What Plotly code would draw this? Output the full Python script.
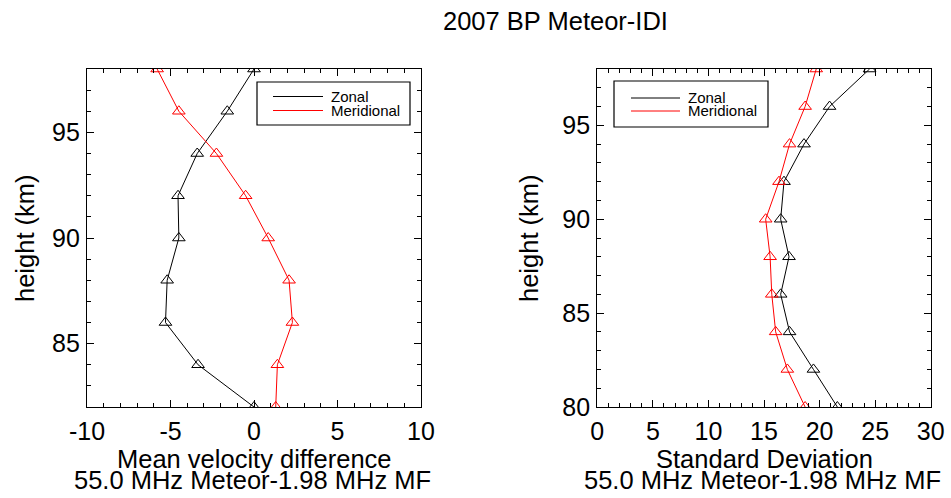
import plotly.graph_objects as go

# Height levels (km)
heights_mean = [98, 96, 94, 92, 90, 88, 86, 84, 82]
heights_std = [98, 96, 94, 92, 90, 88, 86, 84, 82, 80]

# Mean velocity difference, 55.0 MHz meteor minus 1.98 MHz MF (m/s)
mean_zonal = [0.0, -1.6, -3.4, -4.55, -4.5, -5.2, -5.3, -3.35, 0.0]
mean_merid = [-5.8, -4.5, -2.25, -0.5, 0.85, 2.1, 2.3, 1.4, 1.3]

# Standard deviation of the difference (m/s)
std_zonal = [24.5, 20.9, 18.6, 16.8, 16.5, 17.25, 16.5, 17.3, 19.45, 21.6]
std_merid = [19.7, 18.7, 17.3, 16.35, 15.15, 15.55, 15.7, 16.05, 17.1, 18.7]

# tick values (labels printed with a plain hyphen for negatives)
mean_xticks = [-10, -5, 0, 5, 10]
std_xticks = [0, 5, 10, 15, 20, 25, 30]
mean_yticks = [85, 90, 95]
std_yticks = [80, 85, 90, 95]

series_names = ["Zonal", "Meridional"]
series_colors = ["black", "red"]

FONT = "Liberation Sans, Arial, sans-serif"

W, H = 951, 498
fig = go.Figure()

# panel domains in paper coordinates
left_dom = [87 / W, 421 / W]
right_dom = [597.3 / W, 930.7 / W]
y_dom = [1 - 407 / H, 1 - 69 / H]


def add_series(xs, ys, color, xa, ya):
    fig.add_trace(go.Scatter(
        x=xs, y=ys, mode="lines+markers",
        line=dict(color=color, width=1),
        marker=dict(symbol="triangle-up-open", size=11,
                    color=color, line=dict(color=color, width=1)),
        xaxis=xa, yaxis=ya, showlegend=False, cliponaxis=True,
    ))


add_series(mean_zonal, heights_mean, series_colors[0], "x", "y")
add_series(mean_merid, heights_mean, series_colors[1], "x", "y")
add_series(std_zonal, heights_std, series_colors[0], "x2", "y2")
add_series(std_merid, heights_std, series_colors[1], "x2", "y2")

minor = dict(dtick=1, ticklen=4, ticks="inside", tickcolor="black", tickwidth=1)
axis_common = dict(
    showline=True, linecolor="black", linewidth=1.3, mirror="ticks",
    ticks="inside", ticklen=7, tickwidth=1, tickcolor="black",
    showgrid=False, zeroline=False, automargin=False,
    tickfont=dict(family=FONT, size=25, color="black"),
    tickmode="array", minor=minor,
)
x_extra = dict(ticklabelstandoff=2)
y_extra = dict(ticklabelstandoff=1)


def labels(vals):
    return [str(v) for v in vals]


fig.update_layout(
    width=W, height=H,
    margin=dict(l=0, r=0, t=0, b=0, pad=0),
    paper_bgcolor="white", plot_bgcolor="white",
    xaxis=dict(domain=left_dom, range=[-10, 10], anchor="y",
               tickvals=mean_xticks, ticktext=labels(mean_xticks),
               **axis_common, **x_extra),
    yaxis=dict(domain=y_dom, range=[82, 98], anchor="x",
               tickvals=mean_yticks, ticktext=labels(mean_yticks),
               **axis_common, **y_extra),
    xaxis2=dict(domain=right_dom, range=[0, 30], anchor="y2",
                tickvals=std_xticks, ticktext=labels(std_xticks),
                **axis_common, **x_extra),
    yaxis2=dict(domain=y_dom, range=[80, 98], anchor="x2",
                tickvals=std_yticks, ticktext=labels(std_yticks),
                **axis_common, **y_extra),
)

annotations = []
shapes = []


def text(x, y, s, size, xref="paper", yref="paper", xanchor="center",
         yanchor="middle", angle=0):
    annotations.append(dict(
        x=x, y=y, xref=xref, yref=yref, text=s, showarrow=False,
        xanchor=xanchor, yanchor=yanchor, textangle=angle,
        font=dict(family=FONT, size=size, color="black"),
    ))


# overall title
text(555.5 / W, 1 - 21 / H, "2007 BP Meteor-IDI", 25.5)

# axis titles
for dom, xlab in ((left_dom, "Mean velocity difference"),
                  (right_dom, "Standard Deviation")):
    cx = (dom[0] + dom[1]) / 2
    text(cx, 1 - 459 / H, xlab, 25.5)
    text(cx - 2 / W, 1 - 480 / H, "55.0 MHz Meteor-1.98 MHz MF", 25.5)

text(25 / W, (y_dom[0] + y_dom[1]) / 2, "height (km)", 25.5, angle=-90)
text(529 / W, (y_dom[0] + y_dom[1]) / 2, "height (km)", 25.5, angle=-90)


# legend boxes, placed in axis-domain fractions
def legend(xa, ya, box, line_x, text_x, rows_y):
    xr, yr = f"{xa} domain", f"{ya} domain"
    shapes.append(dict(type="rect", xref=xr, yref=yr,
                       x0=box[0], x1=box[1], y0=box[2], y1=box[3],
                       line=dict(color="black", width=1.2),
                       fillcolor="white", layer="above"))
    for name, color, ry in zip(series_names, series_colors, rows_y):
        shapes.append(dict(type="line", xref=xr, yref=yr,
                           x0=line_x[0], x1=line_x[1], y0=ry, y1=ry,
                           line=dict(color=color, width=1), layer="above"))
        text(text_x, ry, name, 15, xref=xr, yref=yr, xanchor="left")


def fx(px, dom):
    return (px - dom[0] * W) / ((dom[1] - dom[0]) * W)


def fy(py):
    return (H * (1 - y_dom[0]) - py) / ((y_dom[1] - y_dom[0]) * H)


legend("x", "y", [fx(257, left_dom), fx(410, left_dom), fy(125), fy(82)],
       [fx(273, left_dom), fx(323, left_dom)], fx(329, left_dom),
       [fy(96.5), fy(110.5)])
legend("x2", "y2", [fx(614, right_dom), fx(768, right_dom), fy(127), fy(81)],
       [fx(631, right_dom), fx(680, right_dom)], fx(686, right_dom),
       [fy(98), fy(111)])

fig.update_layout(annotations=annotations, shapes=shapes)

fig.write_html("out.html")
